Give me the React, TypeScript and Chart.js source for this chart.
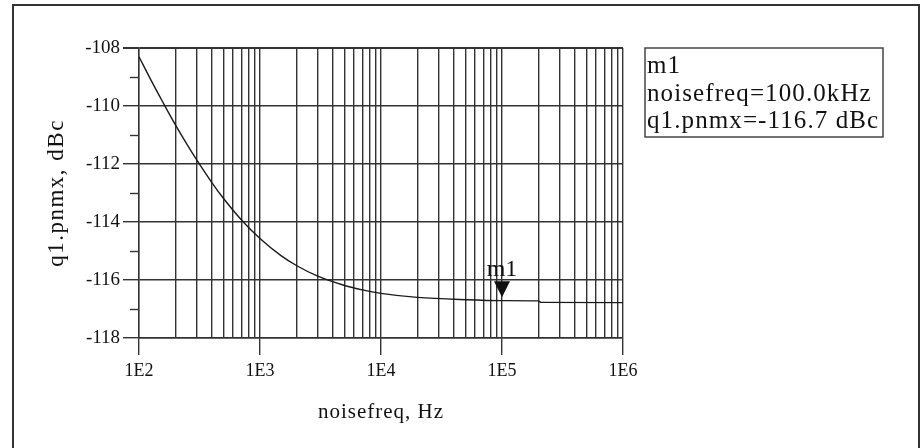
import React, { useEffect, useRef } from 'react';
import { Chart, registerables } from 'chart.js';

Chart.register(...registerables);

// ---- data ----
const freqHz = [100, 125, 158, 200, 250, 300, 400, 500, 700, 1000, 1500, 2000, 3000, 5000, 7000, 10000, 20000, 50000, 100000, 200000, 210000, 1000000];
const pnmxDbc = [-108.3, -109.09, -109.88, -110.65, -111.33, -111.86, -112.64, -113.19, -113.92, -114.57, -115.17, -115.5, -115.87, -116.19, -116.34, -116.46, -116.6, -116.68, -116.71, -116.72, -116.77, -116.78];

const xDecades = [1e2, 1e3, 1e4, 1e5, 1e6];
const xTickLabels = ['1E2', '1E3', '1E4', '1E5', '1E6'];
const xGridMultipliers = [1, 2, 3, 4, 5, 6, 7, 8, 9];
const yTicks = [-118, -116, -114, -112, -110, -108];
const yMinorTicks = [-117, -115, -113, -111, -109];

const markerName = 'm1';
const markerFreq = 1e5;
const markerValue = -116.7;

const xTitle = 'noisefreq, Hz';
const yTitle = 'q1.pnmx, dBc';

const FONT = "'Liberation Serif', 'Times New Roman', serif";
const LINE = '#333333';
const TEXT = '#111111';

const gridFreqs: number[] = [];
xDecades.forEach((d, i) => {
  if (i === xDecades.length - 1) {
    gridFreqs.push(d);
  } else {
    xGridMultipliers.forEach((m) => gridFreqs.push(m * d));
  }
});

const decorPlugin = {
  id: 'decor',
  beforeDraw(chart: any) {
    const { ctx } = chart;
    ctx.save();
    ctx.fillStyle = '#ffffff';
    ctx.fillRect(0, 0, chart.width, chart.height);
    ctx.strokeStyle = LINE;
    ctx.lineWidth = 2;
    ctx.beginPath();
    ctx.moveTo(13, chart.height);
    ctx.lineTo(13, 5);
    ctx.lineTo(919, 5);
    ctx.lineTo(919, chart.height);
    ctx.stroke();
    ctx.restore();
  },
  afterDraw(chart: any) {
    const { ctx, chartArea } = chart;
    const xs = chart.scales.x;
    const ys = chart.scales.y;
    ctx.save();

    // minor y ticks
    ctx.strokeStyle = LINE;
    ctx.lineWidth = 1.4;
    for (const v of yMinorTicks) {
      const y = Math.round(ys.getPixelForValue(v)) + 0.5;
      ctx.beginPath();
      ctx.moveTo(chartArea.left - 9, y);
      ctx.lineTo(chartArea.left, y);
      ctx.stroke();
    }

    // marker
    const mx = xs.getPixelForValue(markerFreq);
    const my = ys.getPixelForValue(markerValue);
    ctx.fillStyle = '#111';
    ctx.beginPath();
    ctx.moveTo(mx - 8, my - 19);
    ctx.lineTo(mx + 8, my - 19);
    ctx.lineTo(mx, my - 3);
    ctx.closePath();
    ctx.fill();
    ctx.fillStyle = TEXT;
    ctx.font = `24px ${FONT}`;
    ctx.textAlign = 'center';
    ctx.textBaseline = 'alphabetic';
    ctx.fillText(markerName, mx, my - 24);

    // axis titles
    ctx.font = `21px ${FONT}`;
    (ctx as any).letterSpacing = '1px';
    ctx.textAlign = 'center';
    ctx.textBaseline = 'middle';
    ctx.fillText(xTitle, (xs.left + xs.right) / 2, 412);

    ctx.save();
    ctx.font = `23px ${FONT}`;
    (ctx as any).letterSpacing = '1.5px';
    ctx.translate(57, (ys.top + ys.bottom) / 2);
    ctx.rotate(-Math.PI / 2);
    ctx.fillText(yTitle, 0, 0);
    ctx.restore();

    // marker readout box
    const bx = chartArea.right + 22;
    const by = chartArea.top;
    ctx.strokeStyle = '#444';
    ctx.lineWidth = 1.5;
    ctx.strokeRect(bx, by, 238, 89);
    ctx.font = `25px ${FONT}`;
    (ctx as any).letterSpacing = '1.1px';
    ctx.textAlign = 'left';
    ctx.textBaseline = 'alphabetic';
    const lines = [
      markerName,
      `noisefreq=${(markerFreq / 1000).toFixed(1)}kHz`,
      `q1.pnmx=${markerValue.toFixed(1)} dBc`,
    ];
    const offsets = [25, 53, 80];
    lines.forEach((t, i) => ctx.fillText(t, bx + 2, by + offsets[i]));

    ctx.restore();
  },
};

export default function App() {
  const ref = useRef<HTMLCanvasElement | null>(null);

  useEffect(() => {
    document.body.style.margin = '0';
    const canvas = ref.current;
    if (!canvas) return;
    const chart = new Chart(canvas, {
      type: 'line',
      data: {
        datasets: [
          {
            data: freqHz.map((f, i) => ({ x: f, y: pnmxDbc[i] })),
            borderColor: '#1a1a1a',
            borderWidth: 1.4,
            pointRadius: 0,
            cubicInterpolationMode: 'monotone',
            fill: false,
          },
        ],
      },
      options: {
        animation: false,
        responsive: false,
        maintainAspectRatio: false,
        layout: { padding: { left: 0, right: 300, top: 48, bottom: 0 } },
        plugins: { legend: { display: false }, tooltip: { enabled: false } },
        scales: {
          x: {
            type: 'logarithmic',
            min: 1e2,
            max: 1e6,
            afterBuildTicks: (s: any) => {
              s.ticks = gridFreqs.map((v) => ({ value: v }));
            },
            afterFit: (s: any) => {
              s.height = 110;
            },
            ticks: {
              autoSkip: false,
              maxRotation: 0,
              minRotation: 0,
              padding: 5,
              color: TEXT,
              font: { family: FONT, size: 18 },
              callback: (v: any) => {
                const i = xDecades.indexOf(Number(v));
                return i >= 0 ? xTickLabels[i] : '';
              },
            },
            grid: {
              color: LINE,
              lineWidth: 1.4,
              tickLength: 17,
              tickColor: (c: any) => (c.tick && xDecades.indexOf(c.tick.value) >= 0 ? LINE : 'rgba(0,0,0,0)'),
            },
            border: { color: LINE, width: 1.4 },
          },
          y: {
            min: -118,
            max: -108,
            afterBuildTicks: (s: any) => {
              s.ticks = yTicks.map((v) => ({ value: v }));
            },
            afterFit: (s: any) => {
              s.width = 139;
            },
            ticks: {
              padding: 3,
              color: TEXT,
              font: { family: FONT, size: 19 },
              callback: (v: any) => String(v),
            },
            grid: {
              color: LINE,
              lineWidth: (c: any) => (c.tick && c.tick.value === -108 ? 2 : 1.4),
              tickLength: 16,
              tickColor: LINE,
            },
            border: { color: LINE, width: 1.4 },
          },
        },
      },
      plugins: [decorPlugin],
    } as any);
    return () => chart.destroy();
  }, []);

  return (
    <div style={{ width: 923, height: 448 }}>
      <canvas ref={ref} width={923} height={448} style={{ display: 'block', width: 923, height: 448 }} />
    </div>
  );
}
